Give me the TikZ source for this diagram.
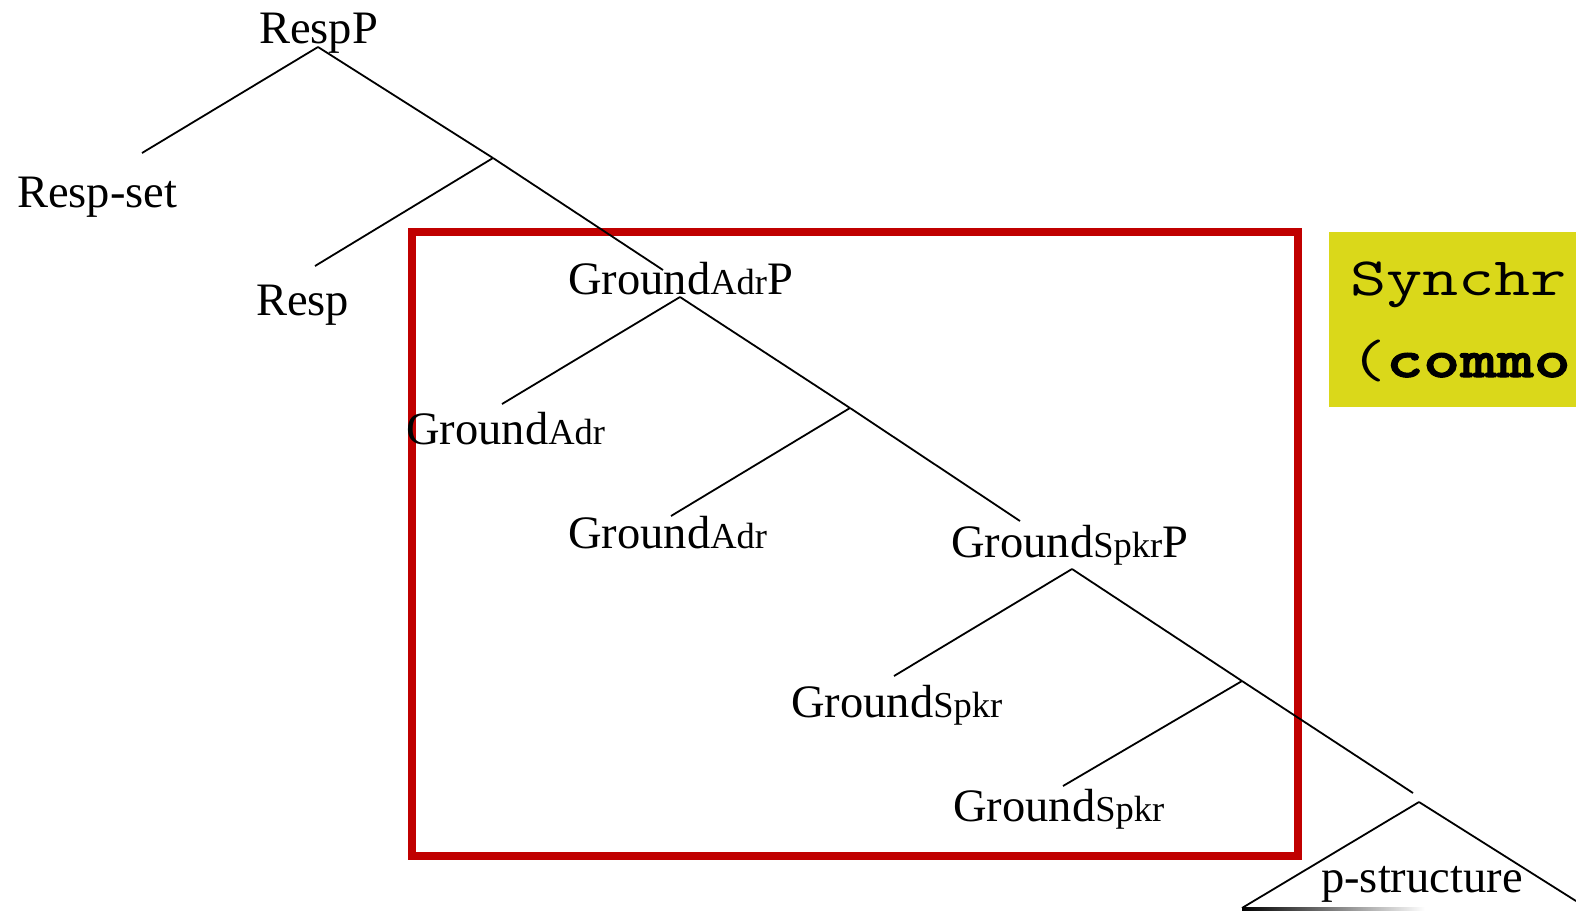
\documentclass[tikz,border=0pt]{standalone}
\usepackage{fontspec}
\setmainfont{Liberation Serif}
\newfontfamily\boxmono[FakeStretch=1.3, BoldFont={Latin Modern Mono Light/B}, BoldFeatures={FakeStretch=1.3, FakeBold=2}]{Latin Modern Mono}
\definecolor{boxred}{HTML}{C00000}
\definecolor{boxyellow}{HTML}{DAD81A}
\newcommand{\smallpart}[1]{{\fontsize{36.5}{40}\selectfont #1}}
\tikzset{
  lab/.style={anchor=base west, inner sep=0pt, font=\fontsize{46.5}{50}\selectfont},
  mono/.style={anchor=base west, inner sep=0pt, font=\boxmono\fontsize{54}{60}\selectfont},
  branch/.style={line width=1.8pt},
  redframe/.style={draw=boxred, line width=8pt}
}
\begin{document}
\begin{tikzpicture}[x=1pt,y=-1pt]
\useasboundingbox (0,0) rectangle (1576,911);
% yellow note
\fill[boxyellow] (1329,232) rectangle (1580,407);
\node[mono] (syn) at (1350,295) {Synchr};
\node[mono] (com) at (1350,377) {(\textbf{commo}};
% red frame
\draw[redframe] (411.5,232) rectangle (1298,856);
% labels
\node[lab] (respP) at (259,43) {RespP};
\node[lab] (respset) at (17,207) {Resp-set};
\node[lab] (resp) at (256,315) {Resp};
\node[lab] (gadrP) at (568,294) {Ground\smallpart{Adr}P};
\node[lab] (gadr1) at (406,444) {Ground\smallpart{Adr}};
\node[lab] (gadr2) at (568,548) {Ground\smallpart{Adr}};
\node[lab] (gspkrP) at (951,557) {Ground\smallpart{Spkr}P};
\node[lab] (gspkr1) at (791,717) {Ground\smallpart{Spkr}};
\node[lab] (gspkr2) at (953,821) {Ground\smallpart{Spkr}};
\node[lab] (pstruct) at (1321,892) {p-structure};
% branch points
\coordinate (a0) at (318,47);
\coordinate (e1) at (142,153);
\coordinate (j1) at (493,158);
\coordinate (e2) at (315,266);
\coordinate (e3) at (663,270);
\coordinate (a1) at (680,297);
\coordinate (e4) at (502,404);
\coordinate (j2) at (850,408);
\coordinate (e5) at (671,516);
\coordinate (e6) at (1020,521);
\coordinate (a2) at (1072,569);
\coordinate (e7) at (894,676);
\coordinate (j3) at (1242,681);
\coordinate (e8) at (1063,786);
\coordinate (e9) at (1413,793);
\coordinate (a3) at (1419,802);
\coordinate (t1) at (1242,908);
\coordinate (t2) at (1576,901);
% branches
\draw[branch] (a0) -- (e1);
\draw[branch] (a0) -- (j1);
\draw[branch] (j1) -- (e2);
\draw[branch] (j1) -- (e3);
\draw[branch] (a1) -- (e4);
\draw[branch] (a1) -- (j2);
\draw[branch] (j2) -- (e5);
\draw[branch] (j2) -- (e6);
\draw[branch] (a2) -- (e7);
\draw[branch] (a2) -- (j3);
\draw[branch] (j3) -- (e8);
\draw[branch] (j3) -- (e9);
% triangle
\draw[branch] (a3) -- (t1);
\draw[branch] (a3) -- (t2);
\shade[left color=black, right color=white] (1242,907.5) rectangle (1425,910);
\end{tikzpicture}
\end{document}
